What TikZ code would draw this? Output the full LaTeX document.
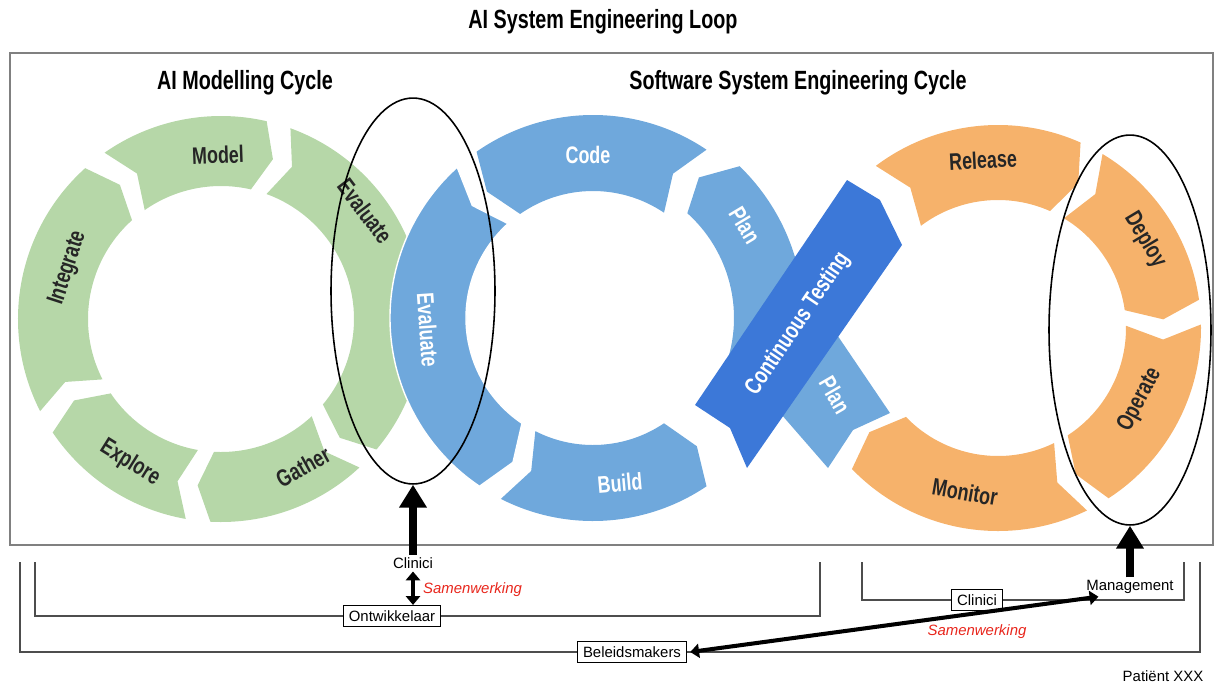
\documentclass[tikz,border=0pt]{standalone}
\usepackage{fontspec}
\setmainfont{Liberation Sans}
\newfontfamily\oswald[FakeStretch=0.75]{Liberation Sans}
\usetikzlibrary{arrows.meta,shapes.geometric}
\definecolor{aigreen}{HTML}{B6D7A8}
\definecolor{swblue}{HTML}{6FA8DC}
\definecolor{ctblue}{HTML}{3C78D8}
\definecolor{oporange}{HTML}{F6B26B}
\definecolor{frameg}{HTML}{808080}
\definecolor{brkgrey}{HTML}{4D4D4D}
\definecolor{coopred}{HTML}{E8261C}
\tikzset{
  ttl/.style={font=\oswald\bfseries\fontsize{15}{17}\selectfont},
  seglbl/.style={font=\oswald\bfseries\fontsize{13.6}{15}\selectfont, inner sep=0pt},
  dk/.style={seglbl, text=black!85},
  lt/.style={seglbl, text=white},
  role/.style={font=\fontsize{8.5}{10}\selectfont, inner sep=1.5pt},
  rolebox/.style={role, draw=black, fill=white, line width=0.6pt, inner xsep=3pt, minimum height=12pt},
  brk/.style={draw=brkgrey, line width=0.85pt},
  ring/.style={draw=black, line width=0.9pt, ellipse, inner sep=0pt},
  big/.style={-{Triangle[length=13pt,width=15pt]}, line width=5pt},
  dbl/.style={{Triangle[length=5pt,width=8pt]}-{Triangle[length=5pt,width=8pt]}, line width=2.3pt},
  coop/.style={font=\itshape\fontsize{8.5}{10}\selectfont, text=coopred, inner sep=1pt},
}
% arc segment with a chevron at both ends:
% centre x, centre y, from, to, tip offset, inner radius, style
\newcommand{\ringseg}[7]{%
  \fill[#7, shift={(#1,#2)}] (#3:203) arc[start angle=#3, end angle=#4, radius=203]
    -- ({#4+#5}:{(203+#6)/2}) -- (#4:#6) arc[start angle=#4, end angle=#3, radius=#6]
    -- ({#3+#5}:{(203+#6)/2}) -- cycle;}

\begin{document}
\begin{tikzpicture}[x=0.02cm, y=0.02cm]
  \useasboundingbox (0,0) rectangle (1215,-684);
  \node[ttl] (looptitle) at (603,-22) {AI System Engineering Loop};
  \draw[frameg, line width=1.1pt] (10,-53) rectangle (1213,-545);
  \node[ttl] (aititle) at (245,-83) {AI Modelling Cycle};
  \node[ttl] (swtitle) at (798,-83) {Software System Engineering Cycle};

  % AI modelling cycle, clockwise
  \ringseg{221}{-319}{207}{132}{-5}{133}{aigreen}
  \ringseg{221}{-319}{125}{77}{-5}{133}{aigreen}
  \ringseg{221}{-319}{70}{-40}{-5}{133}{aigreen}
  \ringseg{221}{-319}{-47}{-93}{-5}{133}{aigreen}
  \ringseg{221}{-319}{-100}{-146}{-5}{133}{aigreen}

  % software cycle, left loop runs anticlockwise
  \ringseg{593}{-318}{56}{125}{5}{127}{swblue}
  \ringseg{593}{-318}{132}{236}{5}{127}{swblue,draw=white,line width=0.8pt}
  \ringseg{593}{-318}{243}{304}{5}{127}{swblue}
  \fill[swblue, shift={(593,-318)}] (46:211) arc[start angle=46, end angle=10, radius=211]
    -- (297,-95) -- (260,-112) -- (235,-150)
    -- (-15:141) arc[start angle=-15, end angle=48, radius=141] -- (53:176) -- cycle;

  % right loop, clockwise
  \ringseg{998}{-328}{127}{66}{-5}{128}{oporange}
  \ringseg{998}{-328}{59}{8}{-5}{128}{oporange}
  \ringseg{998}{-328}{1}{-57}{-5}{128}{oporange}
  \ringseg{998}{-328}{-64}{-136}{-5}{128}{oporange}

  % crossing band
  \fill[ctblue] (695,-405) -- (730,-428) -- (747,-468) -- (902,-245) -- (880,-200) -- (847,-180) -- cycle;

  \node[dk, rotate=2] (model) at (218,-155) {Model};
  \node[dk, rotate=-53] (evalai) at (365,-211) {Evaluate};
  \node[dk, rotate=29] (gather) at (303,-467) {Gather};
  \node[dk, rotate=-32] (explore) at (130,-463) {Explore};
  \node[dk, rotate=72] (integrate) at (68,-268) {Integrate};

  \node[lt] (code) at (588,-155) {Code};
  \node[lt, rotate=-86] (evalsw) at (428,-330) {Evaluate};
  \node[lt, rotate=5] (build) at (620,-483) {Build};
  \node[lt, rotate=-59] (planup) at (745,-225) {Plan};
  \node[lt, rotate=-60] (plandn) at (835,-395) {Plan};
  \node[lt, rotate=56] (ctest) at (798,-324) {Continuous Testing};

  \node[dk, rotate=3] (release) at (983,-160) {Release};
  \node[dk, rotate=-59] (deploy) at (1145,-240) {Deploy};
  \node[dk, rotate=62] (operate) at (1140,-400) {Operate};
  \node[dk, rotate=-10] (monitor) at (965,-492) {Monitor};

  \node[ring, minimum width=3.28cm, minimum height=7.72cm] (evalring) at (413,-291) {};
  \node[ring, minimum width=3.24cm, minimum height=7.8cm] (opsring) at (1130,-330) {};

  % stakeholders
  \node[role] (clin1) at (413,-563) {Clinici};
  \node[rolebox] (ontw) at (392,-616) {Ontwikkelaar};
  \node[rolebox] (beleid) at (632,-652) {Beleidsmakers};
  \node[rolebox] (clin2) at (977,-600) {Clinici};
  \node[role] (mgmt) at (1130,-587) {Management};
  \node[role] (pat) at (1163,-676) {Patiënt XXX};
  \node[coop, anchor=west] (coop1) at (421,-590) {Samenwerking};
  \node[coop] (coop2) at (977,-632) {Samenwerking};

  \coordinate (devL) at (35,-562);
  \coordinate (devR) at (820,-562);
  \coordinate (polL) at (20,-562);
  \coordinate (polR) at (1200,-562);
  \coordinate (hospL) at (862,-562);
  \coordinate (hospR) at (1184,-562);
  \draw[brk] (devL) |- (ontw.west);
  \draw[brk] (ontw.east) -| (devR);
  \draw[brk] (polL) |- (beleid.west);
  \draw[brk] (beleid.east) -| (polR);
  \draw[brk] (hospL) |- (clin2.west);
  \draw[brk] (clin2.east) -| (hospR);

  \draw[big] (clin1.north) -- (evalring.south);
  \draw[big] (mgmt.north) -- (opsring.south);
  \draw[dbl] (clin1.south) -- (clin1.south |- ontw.north);
  \draw[dbl] ([xshift=2pt]beleid.east) -- ([xshift=0.3cm]mgmt.south west);
\end{tikzpicture}
\end{document}
